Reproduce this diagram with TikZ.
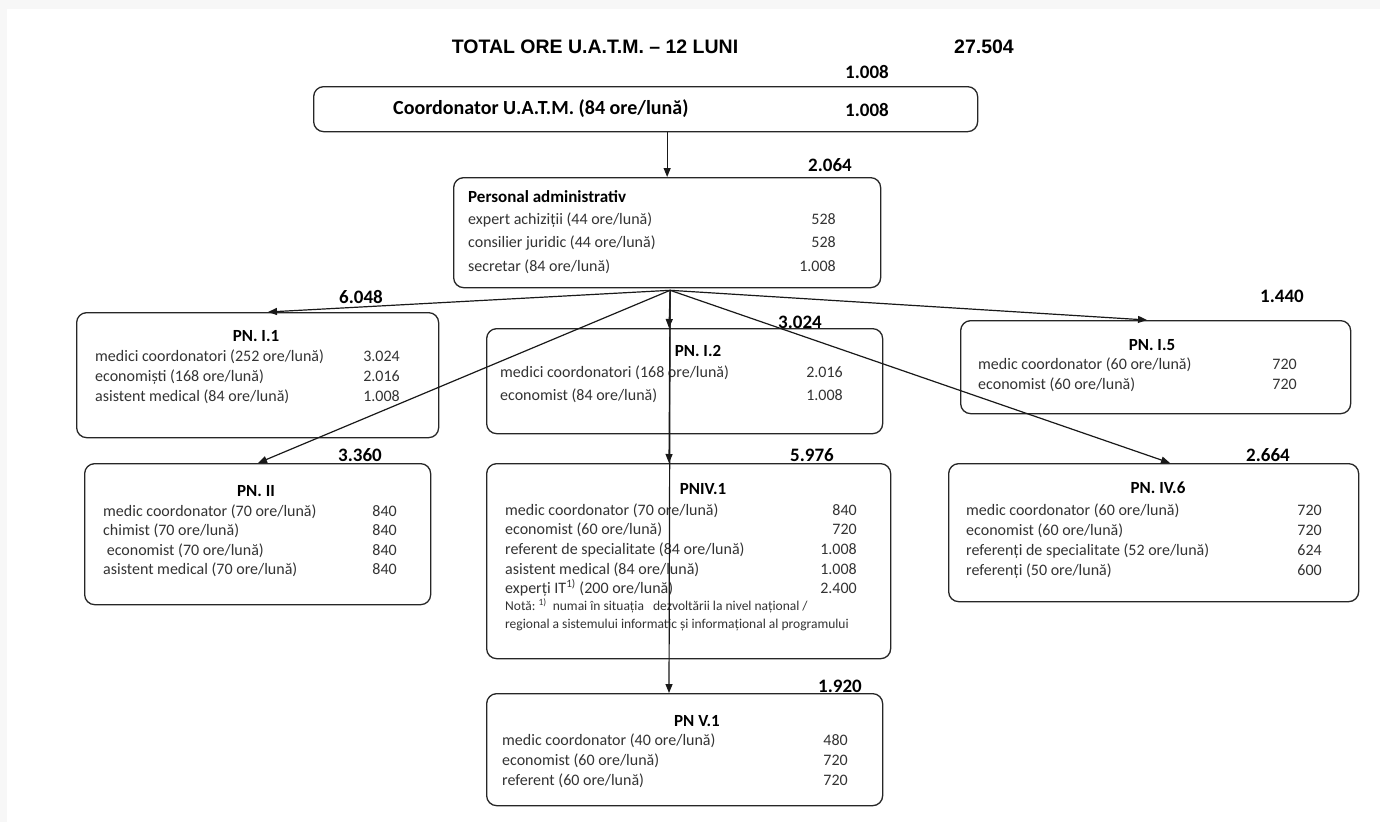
\documentclass[tikz,border=0pt]{standalone}
\usepackage{fontspec}
\setmainfont{Carlito}
\newfontfamily\arialf{Liberation Sans}
\usetikzlibrary{arrows.meta}
\begin{document}
\begin{tikzpicture}[x=1pt,y=-1pt,
  box/.style={draw=black!85, line width=1.3pt, rounded corners=10pt, anchor=north west, inner sep=0pt},
  lbl/.style={anchor=west, inner sep=0pt, text height=14pt, text depth=3pt, font=\fontsize{16}{18}\selectfont, text=black!80},
  num/.style={anchor=east, inner sep=0pt, text height=14pt, text depth=3pt, font=\fontsize{16}{18}\selectfont, text=black!80},
  note/.style={anchor=west, inner sep=0pt, text height=11pt, text depth=2.5pt, font=\fontsize{13.5}{15}\selectfont, text=black!80},
  head/.style={anchor=center, inner sep=0pt, text height=11.5pt, text depth=0pt, font=\bfseries\fontsize{17}{19}\selectfont},
  tot/.style={anchor=center, inner sep=0pt, text height=12.5pt, text depth=0pt, font=\bfseries\fontsize{19}{21}\selectfont},
  ttl/.style={anchor=center, inner sep=0pt, text height=13.5pt, text depth=0pt, font=\arialf\bfseries\fontsize{19.5}{22}\selectfont},
  conn/.style={line width=1.2pt, draw=black!90, -{Triangle[length=9pt,width=7pt]}}
]
\useasboundingbox (0,0) rectangle (1380,822);
\fill[black!3] (0,0) rectangle (1380,822);
\fill[white] (7,9) rectangle (1380,822);

% title
\node[ttl] (title) at (595,47) {TOTAL ORE U.A.T.M. – 12 LUNI};
\node[ttl] (total) at (984,47) {27.504};

% coordinator
\node[tot] (tcoord) at (867,72) {1.008};
\node[box, minimum width=664pt, minimum height=45pt] (coord) at (313,86) {};
\node[anchor=west, inner sep=0pt, text height=13pt, text depth=4pt, font=\bfseries\fontsize{20}{22}\selectfont] (coordtxt) at (393,110) {Coordonator U.A.T.M. (84 ore/lună)};
\node[tot] (coordnum) at (867,110) {1.008};

% administrative
\node[tot] (tadmin) at (830,165) {2.064};
\node[box, minimum width=427pt, minimum height=110pt] (admin) at (453,177) {};
\node[anchor=west, inner sep=0pt, text height=12.5pt, text depth=3pt, font=\bfseries\fontsize{17}{19}\selectfont] (adminh) at (468,198) {Personal administrativ};
\node[lbl] (a1) at (468,219) {expert achiziții (44 ore/lună)};
\node[num] (a1n) at (836,219) {528};
\node[lbl] (a2) at (468,242) {consilier juridic (44 ore/lună)};
\node[num] (a2n) at (836,242) {528};
\node[lbl] (a3) at (468,266) {secretar (84 ore/lună)};
\node[num] (a3n) at (836,266) {1.008};

% PN I.1
\node[tot] (t11) at (361,297) {6.048};
\node[box, minimum width=362pt, minimum height=125pt] (pn11) at (76,312) {};
\node[head] (h11) at (256,336) {PN. I.1};
\node[lbl] (r11a) at (95,356) {medici coordonatori (252 ore/lună)};
\node[num] (n11a) at (400,356) {3.024};
\node[lbl] (r11b) at (95,376) {economiști (168 ore/lună)};
\node[num] (n11b) at (400,376) {2.016};
\node[lbl] (r11c) at (95,396) {asistent medical (84 ore/lună)};
\node[num] (n11c) at (400,396) {1.008};

% PN I.2
\node[tot] (t12) at (800,322) {3.024};
\node[box, minimum width=396pt, minimum height=105pt] (pn12) at (486,328) {};
\node[head] (h12) at (698,351) {PN. I.2};
\node[lbl] (r12a) at (500,372) {medici coordonatori (168 ore/lună)};
\node[num] (n12a) at (843,372) {2.016};
\node[lbl] (r12b) at (500,395) {economist (84 ore/lună)};
\node[num] (n12b) at (843,395) {1.008};

% PN I.5
\node[tot] (t15) at (1282,296) {1.440};
\node[box, minimum width=390pt, minimum height=93pt] (pn15) at (960,320) {};
\node[head] (h15) at (1152,345) {PN. I.5};
\node[lbl] (r15a) at (978,364) {medic coordonator (60 ore/lună)};
\node[num] (n15a) at (1297,364) {720};
\node[lbl] (r15b) at (978,384) {economist (60 ore/lună)};
\node[num] (n15b) at (1297,384) {720};

% PN II
\node[tot] (t2) at (360,455) {3.360};
\node[box, minimum width=346pt, minimum height=141pt] (pn2) at (84,463) {};
\node[head] (h2) at (256,491) {PN. II};
\node[lbl] (r2a) at (103,511) {medic coordonator (70 ore/lună)};
\node[num] (n2a) at (397,511) {840};
\node[lbl] (r2b) at (103,530) {chimist (70 ore/lună)};
\node[num] (n2b) at (397,530) {840};
\node[lbl] (r2c) at (103,550) {\ economist (70 ore/lună)};
\node[num] (n2c) at (397,550) {840};
\node[lbl] (r2d) at (103,569) {asistent medical (70 ore/lună)};
\node[num] (n2d) at (397,569) {840};

% PN IV.1
\node[tot] (t41) at (812,455) {5.976};
\node[box, minimum width=404pt, minimum height=195pt] (pn41) at (486,463) {};
\node[head] (h41) at (703,489) {PNIV.1};
\node[lbl] (r41a) at (505,510) {medic coordonator (70 ore/lună)};
\node[num] (n41a) at (857,510) {840};
\node[lbl] (r41b) at (505,529) {economist (60 ore/lună)};
\node[num] (n41b) at (857,529) {720};
\node[lbl] (r41c) at (505,549) {referent de specialitate (84 ore/lună)};
\node[num] (n41c) at (857,549) {1.008};
\node[lbl] (r41d) at (505,569) {asistent medical (84 ore/lună)};
\node[num] (n41d) at (857,569) {1.008};
\node[lbl] (r41e) at (505,588) {experți IT\textsuperscript{1)} (200 ore/lună)};
\node[num] (n41e) at (857,588) {2.400};
\node[note] (r41f) at (505,606) {Notă:\ \textsuperscript{1)}\ \ numai în situația\ \ \ dezvoltării la nivel național /};
\node[note] (r41g) at (505,624) {regional a sistemului informatic și informațional al programului};

% PN IV.6
\node[tot] (t46) at (1268,455) {2.664};
\node[box, minimum width=410pt, minimum height=138pt] (pn46) at (948,463) {};
\node[head] (h46) at (1158,488) {PN. IV.6};
\node[lbl] (r46a) at (966,510) {medic coordonator (60 ore/lună)};
\node[num] (n46a) at (1322,510) {720};
\node[lbl] (r46b) at (966,530) {economist (60 ore/lună)};
\node[num] (n46b) at (1322,530) {720};
\node[lbl] (r46c) at (966,550) {referenți de specialitate (52 ore/lună)};
\node[num] (n46c) at (1322,550) {624};
\node[lbl] (r46d) at (966,570) {referenți (50 ore/lună)};
\node[num] (n46d) at (1322,570) {600};

% PN V.1
\node[tot] (t51) at (840,686) {1.920};
\node[box, minimum width=396pt, minimum height=112pt] (pn51) at (486,693) {};
\node[head] (h51) at (697,721) {PN V.1};
\node[lbl] (r51a) at (502,740) {medic coordonator (40 ore/lună)};
\node[num] (n51a) at (848,740) {480};
\node[lbl] (r51b) at (502,760) {economist (60 ore/lună)};
\node[num] (n51b) at (848,760) {720};
\node[lbl] (r51c) at (502,780) {referent (60 ore/lună)};
\node[num] (n51c) at (848,780) {720};

% connectors
\coordinate (hub) at ([xshift=3pt,yshift=-2pt]admin.south);
\draw[conn] (admin.north |- coord.south) -- (admin.north);
\draw[conn] (hub) -- ([xshift=192pt]pn11.north west);
\draw[conn] (hub) -- ([xshift=183pt]pn12.north west);
\draw[conn] (hub) -- ([xshift=187pt]pn15.north west);
\draw[conn] (hub) -- ([xshift=174pt]pn2.north west);
\draw[conn] (hub) -- ([xshift=183pt]pn41.north west);
\draw[conn] (hub) -- ([xshift=222pt]pn46.north west);
\draw[conn] (hub) -- ([xshift=183pt]pn51.north west);
\end{tikzpicture}
\end{document}
